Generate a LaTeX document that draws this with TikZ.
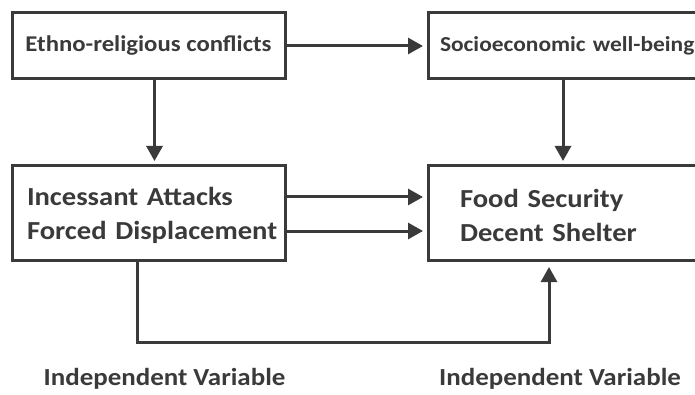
\documentclass[tikz,border=0pt]{standalone}
\usepackage{fontspec}
\setmainfont{Carlito}[FakeStretch=1.1]
\usepackage{xcolor}
\usepackage{tikz}
\usetikzlibrary{positioning}
\usetikzlibrary{arrows.meta}
\definecolor{inkgray}{HTML}{3A3A3A}
\tikzset{%
  topbox/.style={rectangle, draw=inkgray, line width=3pt, outer sep=0pt, text=inkgray, minimum width=273pt, minimum height=66pt, font=\fontsize{22.5}{26}\selectfont\bfseries},
  mainbox/.style={rectangle, draw=inkgray, line width=3pt, outer sep=0pt, text=inkgray, minimum width=273pt, minimum height=94pt, align=left, font=\fontsize{26}{34}\selectfont\bfseries, execute at begin node=\rule{0pt}{23.5pt}},% the two lower boxes
  varlabel/.style={text=inkgray, font=\fontsize{24.5}{30}\selectfont\bfseries},
  link/.style={draw=inkgray, line width=3pt, -{Triangle[length=15pt,width=16pt]}, shorten >=5pt}
}

\begin{document}
\begin{tikzpicture}
    \useasboundingbox (0,0) rectangle (695pt,-395pt);
    %Nodes
    \node[topbox, anchor=north west] (ethno) at (12pt,-13pt) {Ethno-religious conflicts};
    \node[topbox, align=left, text width=270pt, inner xsep=12pt, font=\fontsize{21.3}{26}\selectfont\bfseries] (socio) [right=143pt of ethno.north east, anchor=north west] {Socioeconomic well-being};
    \node[mainbox, text width=263pt, inner xsep=5pt] (incess) [below=87pt of ethno.south west, anchor=north west] {\hspace*{10pt}Incessant Attacks\\\hspace*{10pt}Forced Displacement};
    \node[mainbox, text width=250pt, inner xsep=32pt] (food) [below=87pt of socio.south west, anchor=north west] {Food Security\\Decent Shelter};
    \node[varlabel] (ivleft) [below=105pt of incess, xshift=16pt] {Independent Variable};
    \node[varlabel] (ivright) [below=105pt of food.south west, xshift=132pt] {Independent Variable};

    %Lines
    \draw[link] (ethno) -- (socio);
    \draw[link] ([xshift=6pt]ethno.south) -- ([xshift=6pt]ethno.south |- incess.north);
    \draw[link] ([xshift=135pt]socio.south west) -- ([xshift=135pt]socio.south west |- food.north);
    \draw[link] ([yshift=16pt]incess.east) -- ([yshift=16pt]incess.east -| food.west);
    \draw[link] ([yshift=-18pt]incess.east) -- ([yshift=-18pt]incess.east -| food.west);
    \draw[link, shorten >=7pt] ([xshift=125pt]incess.south west) -- ++(0,-82pt) -| ([xshift=121pt]food.south west);
\end{tikzpicture}
\end{document}
